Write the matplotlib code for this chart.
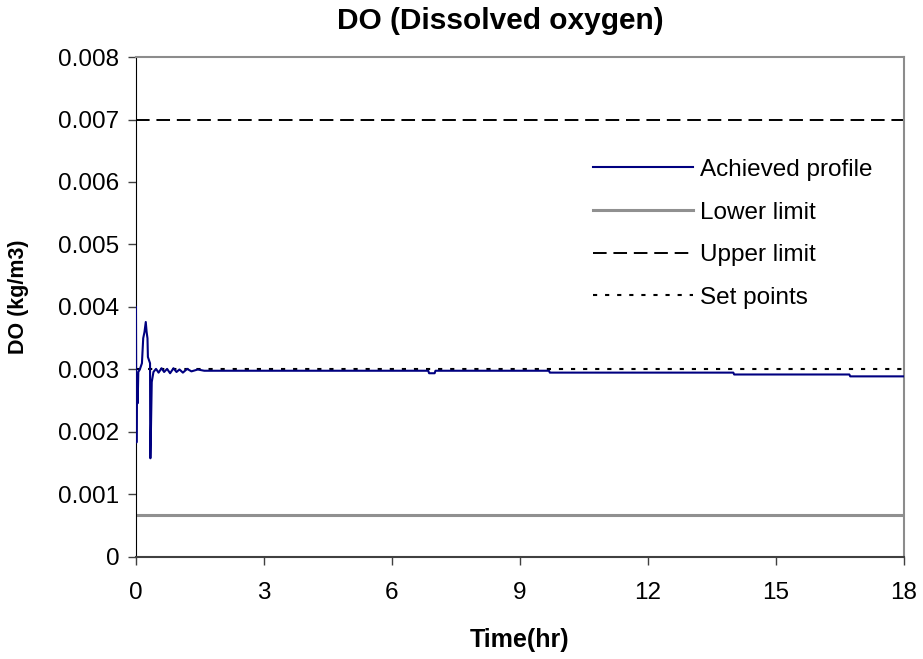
import matplotlib.pyplot as plt

plt.rcParams['font.family'] = ['Liberation Sans', 'DejaVu Sans']

# achieved DO profile (time in hr, DO in kg/m3)
time_hr = [0.0, 0.01, 0.02, 0.04, 0.055, 0.09, 0.14, 0.17, 0.2, 0.23, 0.25, 0.27,
           0.28, 0.33, 0.335, 0.34, 0.37, 0.41, 0.47, 0.53, 0.6, 0.66, 0.73, 0.8,
           0.88, 0.95, 1.02, 1.1, 1.2, 1.3, 1.45, 1.6, 6.85, 6.87, 7.0, 7.02,
           9.68, 9.7, 14.0, 14.02, 16.72, 16.74, 18.0]
do_profile = [0.0040, 0.00183, 0.0029, 0.00246, 0.00296, 0.0030, 0.0031, 0.0035,
              0.0036, 0.00376, 0.0036, 0.0035, 0.0032, 0.0031, 0.00158, 0.00158,
              0.0028, 0.00296, 0.00301, 0.00295, 0.00302, 0.00296, 0.00301, 0.00294,
              0.00302, 0.00296, 0.00300, 0.00295, 0.00301, 0.00297, 0.00300, 0.00298,
              0.00298, 0.00294, 0.00294, 0.00298, 0.00298, 0.00295, 0.00295, 0.00292,
              0.00292, 0.00289, 0.00289]

limit_time = [0, 18]
lower_limit = [0.00067, 0.00067]
upper_limit = [0.007, 0.007]
set_points = [0.003, 0.003]

x_ticks = [0, 3, 6, 9, 12, 15, 18]
y_ticks = [0, 0.001, 0.002, 0.003, 0.004, 0.005, 0.006, 0.007, 0.008]
y_labels = ['0', '0.001', '0.002', '0.003', '0.004', '0.005', '0.006', '0.007', '0.008']

fig = plt.figure(figsize=(9.23, 6.59), dpi=100)
ax = fig.add_axes([0.1473, 0.1548, 0.8321, 0.7587])

ax.plot(time_hr, do_profile, color='#000080', lw=1.5, label='Achieved profile', zorder=4)
ax.plot(limit_time, lower_limit, color='#909090', lw=2.2, label='Lower limit')
ax.plot(limit_time, upper_limit, color='black', lw=1.4, dashes=(7, 3.5), label='Upper limit')
ax.plot(limit_time, set_points, color='black', lw=1.5, dashes=(2, 3.8), label='Set points', zorder=3)

ax.set_xlim(0, 18)
ax.set_ylim(0, 0.008)
ax.set_xticks(x_ticks)
ax.set_yticks(y_ticks)
ax.set_yticklabels(y_labels)
ax.tick_params(labelsize=17.5, length=6, width=1, direction='out', color='#404040')
ax.tick_params(axis='x', pad=12)
ax.tick_params(axis='y', pad=6)

for side in ['top', 'right']:
    ax.spines[side].set_color('#8c8c8c')
    ax.spines[side].set_linewidth(1.5)
ax.spines['left'].set_color('black')
ax.spines['bottom'].set_color('#404040')
ax.spines['bottom'].set_linewidth(1.5)

# title sits a bit left of the plot centre, like the original
fig.text(0.542, 0.968, 'DO (Dissolved oxygen)', fontsize=21.5, fontweight='bold',
         ha='center', va='center')
ax.set_xlabel('Time(hr)', fontsize=18, fontweight='bold', labelpad=17)
ax.set_ylabel('DO (kg/m3)', fontsize=15.5, fontweight='bold')
ax.yaxis.set_label_coords(-0.139, 0.52)

ax.legend(loc='upper left', bbox_to_anchor=(0.619, 0.792), bbox_transform=fig.transFigure,
          frameon=False, fontsize=17.5, handlelength=4.1, handletextpad=0.3,
          labelspacing=0.85, borderpad=0.4)

fig.savefig('out.png', dpi=100)
